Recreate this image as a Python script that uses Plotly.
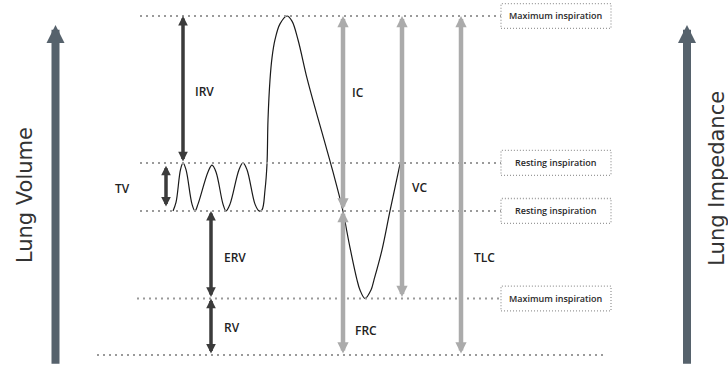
import plotly.graph_objects as go

# ----------------------------- data ----------------------------- #
# lung volume levels [L]
level_values = [6.0, 3.4, 2.55, 1.0, 0.0]   # max insp, rest insp, rest exp, max exp, zero
box_levels = [6.0, 3.4, 2.55, 1.0]
box_texts = ["Maximum inspiration", "Resting inspiration",
             "Resting inspiration", "Maximum inspiration"]

# spirometer trace (time units, volume [L])
trace_t = [173, 176, 180.5, 183, 186, 192, 195, 198, 208, 212, 216, 223, 226, 230,
           239, 243, 247, 255, 259, 262, 265, 267, 268, 270, 272, 275, 280, 287,
           292, 298, 307, 317, 325, 333, 342, 350, 357, 360, 365, 371, 374, 382,
           390, 400]
trace_v = [2.55, 2.70, 3.28, 3.40, 3.28, 2.67, 2.55, 2.67, 3.24, 3.36, 3.24, 2.67, 2.55, 2.67,
           3.28, 3.40, 3.28, 2.67, 2.55, 2.57, 2.92, 3.38, 4.16, 4.87, 5.26, 5.58, 5.86, 6.00,
           5.91, 5.58, 4.90, 4.25, 3.75, 3.24, 2.62, 1.90, 1.33, 1.15, 1.00, 1.15, 1.33, 1.86,
           2.55, 3.38]

# volume / capacity arrows
dark_labels = ["IRV", "TV", "ERV", "RV"]
dark_top = [6.0, 3.35, 2.55, 1.0]
dark_bottom = [3.4, 2.6, 1.0, 0.0]
light_labels = ["IC", "FRC", "VC", "TLC"]
light_top = [6.0, 2.55, 6.0, 6.0]
light_bottom = [2.55, 0.0, 1.0, 0.0]

# ---------------------------- layout bits ---------------------------- #
dark_x = [183, 166, 211, 211]
dark_lx = [193, 113, 222, 222]
dark_ly = [4.67, 2.94, 1.73, 0.48]
light_x = [343, 343, 402, 461]
light_lx = [350, 353, 410, 472]
light_ly = [4.65, 0.44, 2.96, 1.73]
line_x0 = [140, 140, 140, 137, 97]
line_x1 = [501, 501, 501, 501, 605]

DARK = "#3b3b3b"
LIGHT = "#ababab"
SIDE = "#56626c"
DOT = "#9a9a9a"
LBL_FONT = dict(family="Open Sans", size=12, color="#222222", weight=600)

fig = go.Figure()

# horizontal dotted level lines
for v, x0, x1 in zip(level_values, line_x0, line_x1):
    fig.add_shape(type="line", x0=x0, x1=x1, y0=v, y1=v,
                  line=dict(color=DOT, width=2, dash="2px,4px"))

# level boxes
for v, txt in zip(box_levels, box_texts):
    fig.add_shape(type="rect", x0=501, x1=611, y0=v - 0.22, y1=v + 0.22,
                  line=dict(color=DOT, width=1.3, dash="1px,2px"))
    fig.add_annotation(x=556, y=v, text=txt, showarrow=False,
                       font=dict(family="Open Sans", size=9, color="#2a2a2a", weight=600))

# spirometer curve
fig.add_trace(go.Scatter(x=trace_t, y=trace_v, mode="lines",
                         line=dict(color="#1a1a1a", width=1.2, shape="spline", smoothing=1.0),
                         hoverinfo="skip", showlegend=False))


def double_arrow(x, y_top, y_bot, color, width, size):
    fig.add_annotation(x=x, y=y_top, ax=x, ay=y_bot, axref="x", ayref="y",
                       text="", showarrow=True, arrowside="end+start",
                       arrowhead=2, startarrowhead=2,
                       arrowsize=size, startarrowsize=size,
                       arrowwidth=width, arrowcolor=color,
                       standoff=0, startstandoff=0)


for x, t, b, lx, ly, lab in zip(dark_x, dark_top, dark_bottom, dark_lx, dark_ly, dark_labels):
    double_arrow(x, t, b, DARK, 3.5, 0.55)
    fig.add_annotation(x=lx, y=ly, text=lab, showarrow=False, xanchor="left", font=LBL_FONT)

for x, t, b, lx, ly, lab in zip(light_x, light_top, light_bottom, light_lx, light_ly, light_labels):
    double_arrow(x, t, b, LIGHT, 4.5, 0.5)
    fig.add_annotation(x=lx, y=ly, text=lab, showarrow=False, xanchor="left", font=LBL_FONT)

# side axes arrows
for x in [55.5, 687]:
    fig.add_annotation(x=x, y=5.84, ax=x, ay=-0.18, axref="x", ayref="y",
                       text="", showarrow=True, arrowhead=2, arrowsize=0.45,
                       arrowwidth=8, arrowcolor=SIDE, standoff=0)

fig.add_annotation(x=25, y=2.83, text="Lung Volume", textangle=-90, showarrow=False,
                   font=dict(family="DejaVu Sans", size=21, color="#333333"))
fig.add_annotation(x=717, y=3.12, text="Lung Impedance", textangle=-90, showarrow=False,
                   font=dict(family="DejaVu Sans", size=21, color="#333333"))

fig.update_layout(
    width=728, height=365,
    margin=dict(l=0, r=0, t=0, b=0),
    paper_bgcolor="white", plot_bgcolor="white",
    xaxis=dict(range=[0, 728], visible=False, fixedrange=True),
    yaxis=dict(range=[-0.177, 6.283], visible=False, fixedrange=True),
    showlegend=False,
)

fig.write_html("out.html", config={"displayModeBar": False},
               post_script="document.body.style.margin='0';")
